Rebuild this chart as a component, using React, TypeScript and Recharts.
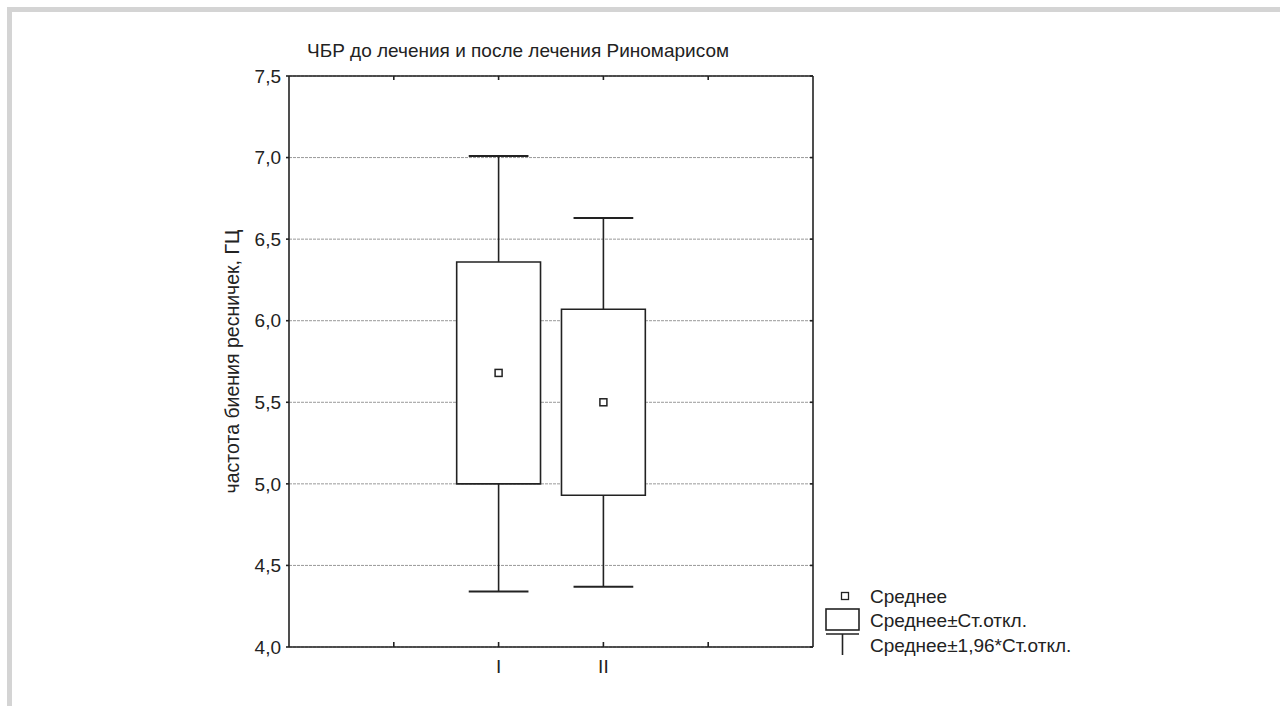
import React from 'react';
import {
  ComposedChart,
  XAxis,
  YAxis,
  CartesianGrid,
  ReferenceArea,
  ReferenceLine,
  Scatter,
  Label,
} from 'recharts';

const chartTitle = 'ЧБР до лечения и после лечения Риномарисом';
const yAxisTitle = 'частота биения ресничек, ГЦ';
const categories = ['I', 'II'];
const means = [5.68, 5.5];
const sdLow = [5.0, 4.93];
const sdHigh = [6.36, 6.07];
const ciLow = [4.34, 4.37];
const ciHigh = [7.01, 6.63];
const yTicks = [4.0, 4.5, 5.0, 5.5, 6.0, 6.5, 7.0, 7.5];
const xTicks = [1, 2, 3, 4];
const legendLabels = ['Среднее', 'Среднее±Ст.откл.', 'Среднее±1,96*Ст.откл.'];

const FONT = '"Liberation Sans", Arial, sans-serif';
const FS = 19;
const INK = '#222';
const SLOT_OFFSET = 2; // first category sits on the 2nd of 5 slots
const BOX_HALF = 0.4;
const CAP_HALF = 0.285;

const pos = (i: number) => i + SLOT_OFFSET;
const points = categories.map((c, i) => ({ x: pos(i), y: means[i], name: c }));

const fmtY = (v: number) => v.toFixed(1).replace('.', ',');
const fmtX = (v: number) => categories[v - SLOT_OFFSET] ?? '';

const MeanShape = (props: any) => {
  const { cx, cy } = props;
  if (cx == null || cy == null) return null;
  return (
    <rect x={cx - 3.5} y={cy - 3.5} width={7} height={7} fill="#fff" stroke={INK} strokeWidth={1.5} />
  );
};

const NoShape = () => <g />;

const YTitle = (props: any) => {
  const vb = props.viewBox || { x: 0, y: 0, width: 0, height: 0 };
  const x = vb.x + 3;
  const y = vb.y + vb.height / 2;
  return (
    <text
      x={x}
      y={y}
      transform={`rotate(-90 ${x} ${y})`}
      textAnchor="middle"
      dominantBaseline="central"
      fontFamily={FONT}
      fontSize={19.5}
      fill={INK}
    >
      {yAxisTitle}
    </text>
  );
};

export default function App() {
  return (
    <div style={{ position: 'absolute', left: 0, top: 0, width: 1280, height: 706, overflow: 'hidden', background: '#fff' }}>
      <div
        style={{
          position: 'absolute',
          left: 7,
          top: 7,
          width: 1400,
          height: 800,
          borderTop: '5px solid #d4d4d4',
          borderLeft: '5px solid #d4d4d4',
        }}
      />
      <div
        style={{
          position: 'absolute',
          left: 307,
          top: 40,
          fontFamily: FONT,
          fontSize: FS,
          color: INK,
          whiteSpace: 'nowrap',
        }}
      >
        {chartTitle}
      </div>
      <div style={{ position: 'absolute', left: 0, top: 0 }}>
        <ComposedChart
          width={1280}
          height={706}
          margin={{ top: 75, right: 466, bottom: 29, left: 229 }}
          data={points}
        >
          <CartesianGrid horizontal vertical={false} stroke="#999" strokeDasharray="3 1" />
          <XAxis
            dataKey="x"
            type="number"
            domain={[0, 5]}
            ticks={xTicks}
            tickFormatter={fmtX}
            allowDataOverflow
            height={30}
            stroke={INK}
            strokeWidth={1.6}
            tickSize={-5}
            tickMargin={18}
            tick={{ fontFamily: FONT, fontSize: FS, fill: INK }}
            interval={0}
          />
          <XAxis
            xAxisId="top"
            orientation="top"
            dataKey="x"
            type="number"
            domain={[0, 5]}
            ticks={xTicks}
            tickFormatter={() => ''}
            allowDataOverflow
            height={1}
            stroke={INK}
            strokeWidth={1.6}
            tickSize={-4}
            interval={0}
          />
          <YAxis
            type="number"
            domain={[4, 7.5]}
            ticks={yTicks}
            tickFormatter={fmtY}
            allowDataOverflow
            width={60}
            stroke={INK}
            strokeWidth={1.6}
            tickSize={3}
            tickMargin={5}
            tick={{ fontFamily: FONT, fontSize: FS, fill: INK }}
            interval={0}
          >
            <Label content={<YTitle />} />
          </YAxis>
          <YAxis
            yAxisId="right"
            orientation="right"
            type="number"
            domain={[4, 7.5]}
            ticks={yTicks}
            tickFormatter={() => ''}
            allowDataOverflow
            width={1}
            stroke={INK}
            strokeWidth={1.6}
            tickSize={-3}
            interval={0}
          />
          {categories.map((c, i) => (
            <ReferenceLine
              key={`ct-${c}`}
              segment={[{ x: pos(i) - CAP_HALF, y: ciHigh[i] }, { x: pos(i) + CAP_HALF, y: ciHigh[i] }]}
              stroke={INK}
              strokeWidth={2}
            />
          ))}
          {categories.map((c, i) => (
            <ReferenceLine
              key={`cb-${c}`}
              segment={[{ x: pos(i) - CAP_HALF, y: ciLow[i] }, { x: pos(i) + CAP_HALF, y: ciLow[i] }]}
              stroke={INK}
              strokeWidth={2}
            />
          ))}
          {categories.map((c, i) => (
            <ReferenceLine
              key={`vt-${c}`}
              segment={[{ x: pos(i), y: sdHigh[i] }, { x: pos(i), y: ciHigh[i] }]}
              stroke={INK}
              strokeWidth={1.6}
            />
          ))}
          {categories.map((c, i) => (
            <ReferenceLine
              key={`vb-${c}`}
              segment={[{ x: pos(i), y: ciLow[i] }, { x: pos(i), y: sdLow[i] }]}
              stroke={INK}
              strokeWidth={1.6}
            />
          ))}
          {categories.map((c, i) => (
            <ReferenceArea
              key={`box-${c}`}
              x1={pos(i) - BOX_HALF}
              x2={pos(i) + BOX_HALF}
              y1={sdLow[i]}
              y2={sdHigh[i]}
              fill="#fff"
              fillOpacity={1}
              stroke={INK}
              strokeWidth={1.6}
            />
          ))}
          <Scatter
            xAxisId="top"
            yAxisId="right"
            dataKey="y"
            data={points}
            shape={<NoShape />}
            isAnimationActive={false}
            legendType="none"
          />
          <Scatter dataKey="y" data={points} shape={<MeanShape />} isAnimationActive={false} />
        </ComposedChart>
      </div>
      <svg style={{ position: 'absolute', left: 816, top: 584 }} width={320} height={80}>
        <rect x={25.5} y={8.5} width={7} height={7} fill="#fff" stroke={INK} strokeWidth={1.3} />
        <text x={54} y={12} dominantBaseline="central" fontFamily={FONT} fontSize={FS} fill={INK}>
          {legendLabels[0]}
        </text>
        <rect x={10} y={25} width={33} height={21} fill="#fff" stroke={INK} strokeWidth={1.6} />
        <text x={54} y={36} dominantBaseline="central" fontFamily={FONT} fontSize={FS} fill={INK}>
          {legendLabels[1]}
        </text>
        <line x1={10} x2={43} y1={50} y2={50} stroke={INK} strokeWidth={1.6} />
        <line x1={26.5} x2={26.5} y1={50} y2={71} stroke={INK} strokeWidth={1.6} />
        <text x={54} y={61} dominantBaseline="central" fontFamily={FONT} fontSize={FS} fill={INK}>
          {legendLabels[2]}
        </text>
      </svg>
    </div>
  );
}
